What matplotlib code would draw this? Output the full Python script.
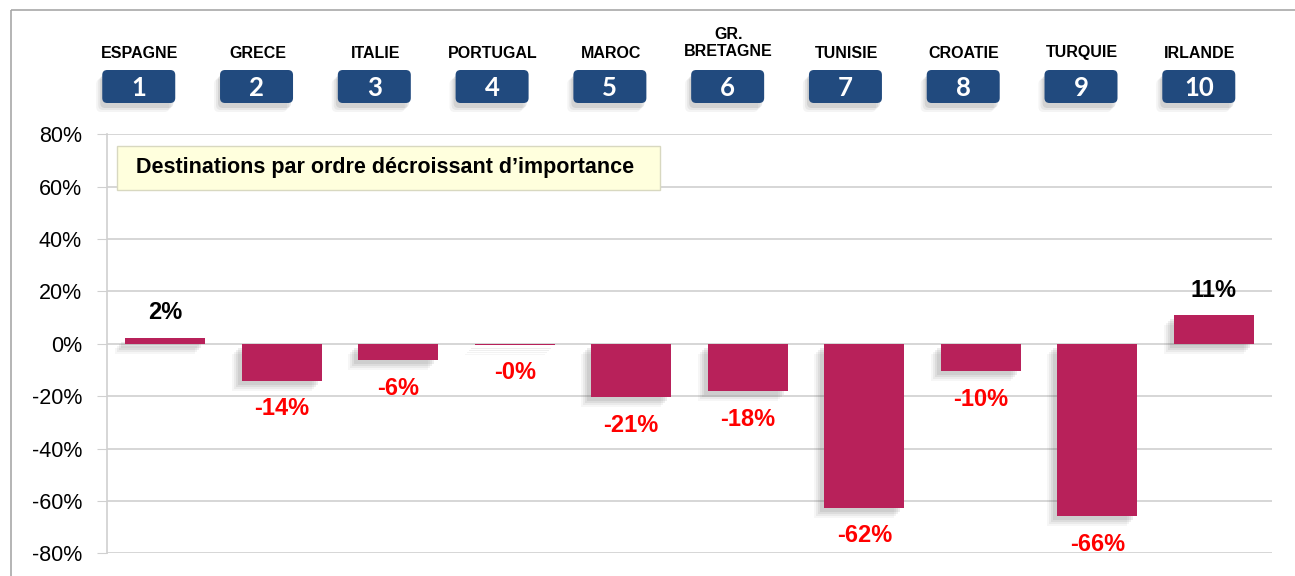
import matplotlib
matplotlib.use("Agg")
import matplotlib.pyplot as plt
import matplotlib.transforms as mtransforms
from matplotlib.patches import FancyBboxPatch, Rectangle
from matplotlib.ticker import FuncFormatter

plt.rcParams['font.family'] = ['Liberation Sans', 'DejaVu Sans']

# Data
countries = ["ESPAGNE", "GRECE", "ITALIE", "PORTUGAL", "MAROC",
             "GR.\nBRETAGNE", "TUNISIE", "CROATIE", "TURQUIE", "IRLANDE"]
ranks = ["1", "2", "3", "4", "5", "6", "7", "8", "9", "10"]
changes = [0.024, -0.141, -0.062, -0.003, -0.205, -0.181, -0.626, -0.104, -0.658, 0.109]
value_labels = ["2%", "-14%", "-6%", "-0%", "-21%", "-18%", "-62%", "-10%", "-66%", "11%"]
y_ticks = [-0.8, -0.6, -0.4, -0.2, 0.0, 0.2, 0.4, 0.6, 0.8]

W, H = 1295, 576
bar_color = "#B8215A"
badge_color = "#214A7E"
grid_color = "#D0D0D0"

fig = plt.figure(figsize=(W / 100, H / 100), dpi=100)
ax = fig.add_axes([107 / W, (H - 553.3) / H, 1165 / W, 419 / H])

xs = list(range(len(changes)))

# soft shadow under bars, shifted down-left
for dx, a in [(10, 0.05), (8, 0.07), (6, 0.09), (4, 0.10)]:
    shadow_tr = mtransforms.offset_copy(ax.transData, fig, x=-dx, y=-dx, units='dots')
    ax.bar(xs, changes, width=0.69, color="#555555", alpha=a, linewidth=0,
           transform=shadow_tr, zorder=2)

ax.bar(xs, changes, width=0.69, color=bar_color, zorder=3)

for x, v, lab in zip(xs, changes, value_labels):
    if v >= 0:
        ax.annotate(lab, (x, v), xytext=(0, 25), textcoords='offset pixels',
                    ha='center', va='center', fontsize=17, fontweight='bold',
                    color='black', zorder=4)
    else:
        ax.annotate(lab, (x, v), xytext=(0, -28), textcoords='offset pixels',
                    ha='center', va='center', fontsize=17, fontweight='bold',
                    color='#FF0000', zorder=4)

ax.set_xlim(-0.5, len(changes) - 0.5)
ax.set_ylim(-0.8, 0.8)
ax.set_yticks(y_ticks)
ax.yaxis.set_major_formatter(FuncFormatter(lambda v, p: f"{v * 100:.0f}%"))
ax.set_xticks([])
ax.tick_params(axis='y', length=7, color=grid_color, pad=11, labelsize=15.5)
ax.grid(axis='y', color=grid_color, linewidth=1.2, zorder=0)
ax.set_axisbelow(True)
for side in ["top", "right", "bottom"]:
    ax.spines[side].set_visible(False)
ax.spines["left"].set_color(grid_color)
ax.spines["left"].set_linewidth(1.2)

# overlay in pixel coordinates for the decorations
deco = fig.add_axes([0, 0, 1, 1], zorder=5)
deco.set_xlim(0, W)
deco.set_ylim(H, 0)
deco.axis('off')

# outer frame (top and left edges visible)
deco.add_patch(Rectangle((11, 10), W, H, fill=False, edgecolor="#A8A8A8", linewidth=1.2))

# rank badges with country names above (slightly wider spacing than the bars)
bw, bh = 73, 33
for x, name, rank in zip(xs, countries, ranks):
    cx = ax.transData.transform((x * 1.011, 0))[0] - 26.5
    for dx, a in [(9, 0.06), (7, 0.08), (5, 0.12)]:
        deco.add_patch(FancyBboxPatch((cx - bw / 2 - dx + 3, 70 + dx), bw, bh,
                                      boxstyle="round,pad=0,rounding_size=5",
                                      facecolor="#444444", edgecolor='none', alpha=a))
    deco.add_patch(FancyBboxPatch((cx - bw / 2, 70), bw, bh,
                                  boxstyle="round,pad=0,rounding_size=5",
                                  facecolor=badge_color, edgecolor='none'))
    deco.text(cx, 88, rank, ha='center', va='center', color='white',
              fontsize=18.5, fontweight='bold', family=['Lato', 'DejaVu Sans'])
    deco.text(cx + 1, 53 if "\n" not in name else 43, name, ha='center',
              va='center', fontsize=11.5, fontweight='bold', linespacing=1.1)

# title box
deco.add_patch(Rectangle((117, 146), 543, 44, facecolor="#FFFFDD",
                         edgecolor="#D8D8C0", linewidth=1))
deco.text(136, 168, "Destinations par ordre décroissant d\u2019importance",
          ha='left', va='center', fontsize=15.5, fontweight='bold')

fig.savefig("out.png", dpi=100)
